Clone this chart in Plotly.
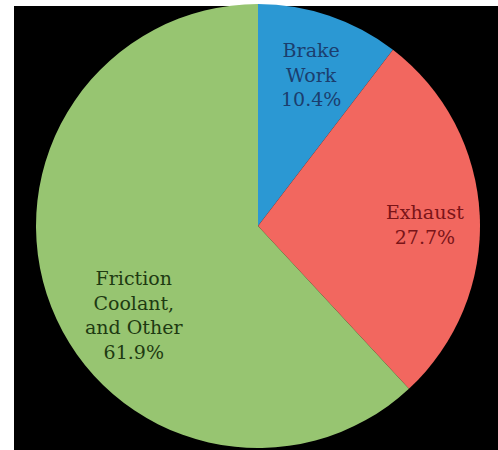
import plotly.graph_objects as go

categories = ["Brake<br>Work", "Exhaust", "Friction<br>Coolant,<br>and Other"]
values = [10.4, 27.7, 61.9]
slice_colors = ["#2B98D3", "#F2675F", "#97C571"]
text_colors = ["#1B3E6E", "#7A1418", "#1E3A12"]

W, H = 498, 450
cx, cy, D = 258, 226, 444

fig = go.Figure(go.Pie(
    labels=categories,
    values=values,
    sort=False,
    direction="clockwise",
    rotation=0,
    marker=dict(colors=slice_colors, line=dict(width=0)),
    textinfo="none",
    hoverinfo="label+percent",
    showlegend=False,
    domain=dict(x=[(cx - D / 2) / W, (cx + D / 2) / W],
                y=[1 - (cy + D / 2) / H, 1 - (cy - D / 2) / H]),
))

# label placements (pixels)
label_pos = [(311, 75, "center"), (425, 224, "center"), (134, 315, "center")]
annotations = []
for cat, v, col, (px, py, al) in zip(categories, values, text_colors, label_pos):
    annotations.append(dict(
        x=px / W, y=1 - py / H, xref="paper", yref="paper",
        xanchor="center", yanchor="middle",
        text=f"{cat}<br>{v}%", showarrow=False, align=al,
        font=dict(family="DejaVu Serif", size=19, color=col),
    ))

fig.update_layout(
    width=W, height=H,
    margin=dict(l=0, r=0, t=0, b=0),
    paper_bgcolor="white",
    plot_bgcolor="white",
    shapes=[dict(type="rect", xref="paper", yref="paper",
                 x0=14 / W, x1=1, y0=0, y1=1 - 6 / H,
                 fillcolor="black", line=dict(width=0), layer="below")],
    annotations=annotations,
)

fig.write_html("out.html")
